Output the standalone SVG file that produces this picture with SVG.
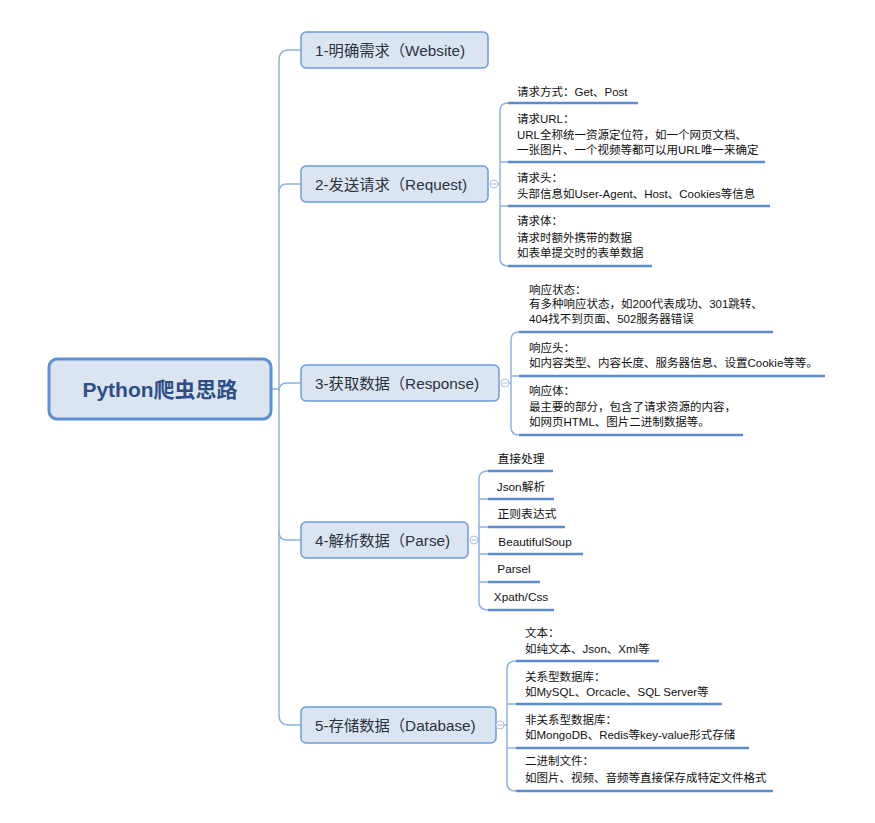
<svg xmlns="http://www.w3.org/2000/svg" width="875" height="823" viewBox="0 0 875 823">
<style>
.bg{fill:#ffffff}
.root{fill:#dbe5f1;stroke:#5b8fd6;stroke-width:3}
.node{fill:#dbe5f1;stroke:#6f9bd8;stroke-width:1.5}
.roott{font-family:"Liberation Sans","Noto Sans CJK SC",sans-serif;font-size:21px;font-weight:bold;fill:#2e4f85;text-anchor:middle}
.nt{font-family:"Liberation Sans","Noto Sans CJK SC",sans-serif;font-size:15.3px;fill:#2b3340}
.lt{font-family:"Liberation Sans","Noto Sans CJK SC",sans-serif;font-size:11.5px;fill:#111}
.ltc{font-family:"Liberation Sans","Noto Sans CJK SC",sans-serif;font-size:11.8px;fill:#111;text-anchor:middle}
.ul{stroke:#5b8bd1;stroke-width:2.5;fill:none}
.con{stroke:#8fb2e0;stroke-width:1.5;fill:none}
.tog{fill:#fff;stroke:#a8bfdf;stroke-width:1}
.togm{stroke:#a8bfdf;stroke-width:1}
</style>
<rect class="bg" x="0" y="0" width="875" height="823"/>

<g id="connectors">
  <path class="con" d="M272,389 L279,389"/>
  <path class="con" d="M301,50 L289,50 Q279,50 279,60 L279,715 Q279,725 289,725 L301,725"/>
  <path class="con" d="M279,192 Q279,184 287,184 L301,184"/>
  <path class="con" d="M279,391 Q279,383 287,383 L301,383"/>
  <path class="con" d="M279,532 Q279,540 287,540 L301,540"/>
  <path class="con" d="M498,184 L500,184"/>
  <path class="con" d="M508,103 Q500,103 500,111 L500,258 Q500,266 508,266"/>
  <path class="con" d="M500,162 L508,162 M500,206 L508,206"/>
  <path class="con" d="M509,383 L511,383"/>
  <path class="con" d="M519,332 Q511,332 511,340 L511,427 Q511,435 519,435"/>
  <path class="con" d="M511,376 L519,376"/>
  <path class="con" d="M478,540 L479,540"/>
  <path class="con" d="M488,471 Q479,471 479,479 L479,602 Q479,610 488,610"/>
  <path class="con" d="M479,499 L488,499 M479,527 L488,527 M479,554 L488,554 M479,582 L488,582"/>
  <path class="con" d="M504,725 L507,725"/>
  <path class="con" d="M516,661 Q507,661 507,669 L507,783 Q507,791 516,791"/>
  <path class="con" d="M507,704 L516,704 M507,748 L516,748"/>
</g>

<g id="root">
  <rect class="root" x="49" y="359" width="222" height="60" rx="8"/>
  <text class="roott" x="160" y="397">Python爬虫思路</text>
</g>

<g id="n1">
  <rect class="node" x="301" y="32" width="187" height="36" rx="5"/>
  <text class="nt" x="315" y="56">1-明确需求（Website)</text>
</g>

<g id="n2">
  <rect class="node" x="301" y="166" width="187" height="36" rx="5"/>
  <text class="nt" x="315" y="190">2-发送请求（Request)</text>
  <circle class="tog" cx="494" cy="184" r="4"/><path class="togm" d="M491.5,184 L496.5,184"/>
</g>

<g id="n3">
  <rect class="node" x="301" y="365" width="198" height="36" rx="5"/>
  <text class="nt" x="315" y="389">3-获取数据（Response)</text>
  <circle class="tog" cx="505" cy="383" r="4"/><path class="togm" d="M502.5,383 L507.5,383"/>
</g>

<g id="n4">
  <rect class="node" x="301" y="522" width="167" height="36" rx="5"/>
  <text class="nt" x="315" y="546">4-解析数据（Parse)</text>
  <circle class="tog" cx="474" cy="540" r="4"/><path class="togm" d="M471.5,540 L476.5,540"/>
</g>

<g id="n5">
  <rect class="node" x="301" y="707" width="195" height="36" rx="5"/>
  <text class="nt" x="315" y="731">5-存储数据（Database)</text>
  <circle class="tog" cx="500" cy="725" r="4"/><path class="togm" d="M497.5,725 L502.5,725"/>
</g>

<g id="l2a">
  <text class="lt" x="517" y="96">请求方式：Get、Post</text>
  <path class="ul" d="M508,103 L638,103"/>
</g>
<g id="l2b">
  <text class="lt" x="517" y="123">请求URL：</text>
  <text class="lt" x="517" y="139">URL全称统一资源定位符，如一个网页文档、</text>
  <text class="lt" x="517" y="154">一张图片、一个视频等都可以用URL唯一来确定</text>
  <path class="ul" d="M508,162 L765,162"/>
</g>
<g id="l2c">
  <text class="lt" x="517" y="182">请求头：</text>
  <text class="lt" x="517" y="198">头部信息如User-Agent、Host、Cookies等信息</text>
  <path class="ul" d="M508,206 L770,206"/>
</g>
<g id="l2d">
  <text class="lt" x="517" y="225">请求体：</text>
  <text class="lt" x="517" y="242">请求时额外携带的数据</text>
  <text class="lt" x="517" y="257">如表单提交时的表单数据</text>
  <path class="ul" d="M508,266 L652,266"/>
</g>

<g id="l3a">
  <text class="lt" x="529" y="294">响应状态：</text>
  <text class="lt" x="529" y="308">有多种响应状态，如200代表成功、301跳转、</text>
  <text class="lt" x="529" y="323">404找不到页面、502服务器错误</text>
  <path class="ul" d="M519,332 L773,332"/>
</g>
<g id="l3b">
  <text class="lt" x="529" y="352">响应头：</text>
  <text class="lt" x="529" y="367">如内容类型、内容长度、服务器信息、设置Cookie等等。</text>
  <path class="ul" d="M519,376 L825,376"/>
</g>
<g id="l3c">
  <text class="lt" x="529" y="395">响应体：</text>
  <text class="lt" x="529" y="411">最主要的部分，包含了请求资源的内容，</text>
  <text class="lt" x="529" y="426">如网页HTML、图片二进制数据等。</text>
  <path class="ul" d="M519,435 L743,435"/>
</g>

<g id="l4a"><text class="ltc" x="521" y="463">直接处理</text><path class="ul" d="M488,471 L553,471"/></g>
<g id="l4b"><text class="ltc" x="521" y="491">Json解析</text><path class="ul" d="M488,499 L554,499"/></g>
<g id="l4c"><text class="ltc" x="527" y="518">正则表达式</text><path class="ul" d="M488,527 L565,527"/></g>
<g id="l4d"><text class="ltc" x="535" y="546">BeautifulSoup</text><path class="ul" d="M488,554 L583,554"/></g>
<g id="l4e"><text class="ltc" x="514" y="573">Parsel</text><path class="ul" d="M488,582 L540,582"/></g>
<g id="l4f"><text class="ltc" x="521" y="601">Xpath/Css</text><path class="ul" d="M488,610 L554,610"/></g>

<g id="l5a">
  <text class="lt" x="525" y="637">文本：</text>
  <text class="lt" x="525" y="653">如纯文本、Json、Xml等</text>
  <path class="ul" d="M516,661 L659,661"/>
</g>
<g id="l5b">
  <text class="lt" x="525" y="681">关系型数据库：</text>
  <text class="lt" x="525" y="696">如MySQL、Orcacle、SQL Server等</text>
  <path class="ul" d="M516,704 L722,704"/>
</g>
<g id="l5c">
  <text class="lt" x="525" y="724">非关系型数据库：</text>
  <text class="lt" x="525" y="739">如MongoDB、Redis等key-value形式存储</text>
  <path class="ul" d="M516,748 L749,748"/>
</g>
<g id="l5d">
  <text class="lt" x="525" y="765">二进制文件：</text>
  <text class="lt" x="525" y="782">如图片、视频、音频等直接保存成特定文件格式</text>
  <path class="ul" d="M516,791 L773,791"/>
</g>
</svg>
